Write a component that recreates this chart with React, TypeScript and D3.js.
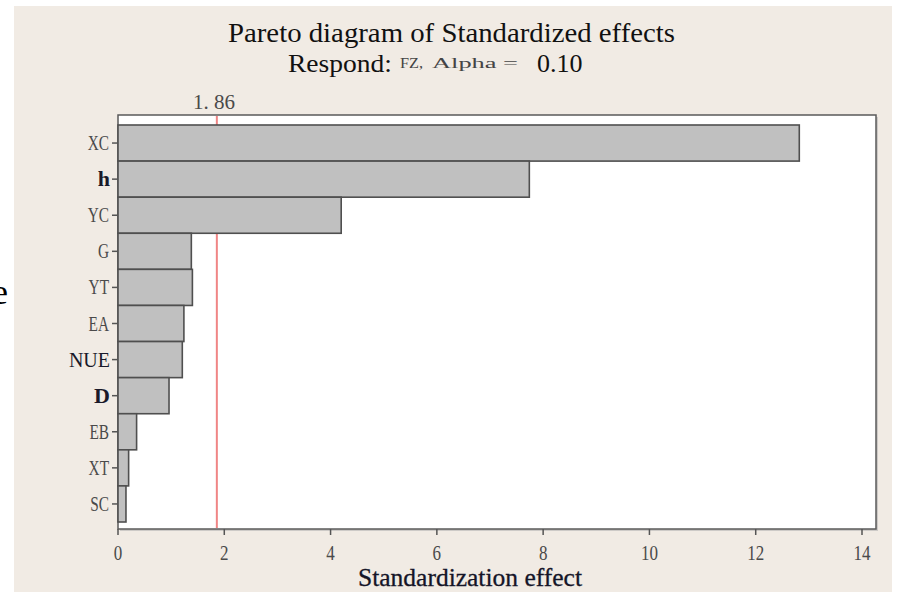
import React from "react";
import * as d3 from "d3";

const categories = ["XC", "h", "YC", "G", "YT", "EA", "NUE", "D", "EB", "XT", "SC"];
const effects = [12.82, 7.74, 4.2, 1.38, 1.4, 1.24, 1.21, 0.96, 0.35, 0.2, 0.15];
const xTicks = [0, 2, 4, 6, 8, 10, 12, 14];
const boldLabels = ["h", "D"];
const timesLabels = ["NUE"];
const threshold = 1.86;

const W = 899;
const H = 592;
const plot = { left: 118, right: 876, top: 115, bottom: 529 };

export default function App() {
  const x = d3.scaleLinear().domain([0, 14]).range([plot.left, 862]);
  const y = d3
    .scaleBand<string>()
    .domain(categories)
    .range([125, 522])
    .padding(0);
  const serif = "'Liberation Serif', 'Times New Roman', serif";
  const gray = "#4a4a4a";
  return (
    <svg
      width={W}
      height={H}
      style={{ position: "absolute", left: 0, top: 0, display: "block" }}
    >
      <rect x={0} y={0} width={W} height={H} fill="#ffffff" />
      <rect x={14} y={6} width={878} height={H - 6} fill="#f1ebe4" />
      <text x={8} y={304} fontFamily={serif} fontSize={36} textAnchor="end" fill="#000">
        e
      </text>
      {/* titles */}
      <text
        x={228}
        y={42}
        fontFamily={serif}
        fontSize={27}
        textLength={447}
        lengthAdjust="spacingAndGlyphs"
        fill="#111"
      >
        Pareto diagram of Standardized effects
      </text>
      <text x={288} y={72} fontFamily={serif} fontSize={26} textLength={104} lengthAdjust="spacingAndGlyphs" fill="#111">
        Respond:
      </text>
      <text x={400} y={68} fontFamily={serif} fontSize={15} textLength={23} lengthAdjust="spacingAndGlyphs" fill="#444">
        FZ,
      </text>
      <text x={432} y={68} fontFamily={serif} fontSize={15} textLength={86} lengthAdjust="spacingAndGlyphs" fill="#444">
        Alpha =
      </text>
      <text x={537} y={72} fontFamily={serif} fontSize={26} fill="#111">
        0.10
      </text>
      {/* plot area */}
      <rect
        x={plot.left + 2}
        y={plot.top + 2}
        width={plot.right - plot.left}
        height={plot.bottom - plot.top}
        fill="#aaa"
        opacity={0.5}
      />
      <rect
        x={plot.left}
        y={plot.top}
        width={plot.right - plot.left}
        height={plot.bottom - plot.top}
        fill="#ffffff"
        stroke="#5a5a5a"
        strokeWidth={1.5}
      />
      {/* threshold line */}
      <line
        x1={x(threshold)}
        x2={x(threshold)}
        y1={plot.top + 1}
        y2={plot.bottom - 1}
        stroke="#f08585"
        strokeWidth={2}
      />
      <text
        x={214}
        y={109}
        fontFamily={serif}
        fontSize={20}
        textAnchor="middle"
        fill={gray}
        textLength={42}
        lengthAdjust="spacingAndGlyphs"
      >
        1. 86
      </text>
      {/* bars */}
      {categories.map((c, i) => (
        <rect
          key={c}
          x={x(0)}
          y={y(c)!}
          width={x(effects[i]) - x(0)}
          height={y.bandwidth()}
          fill="#c0c0c0"
          stroke="#4f4f4f"
          strokeWidth={1.6}
        />
      ))}
      {/* y ticks and labels */}
      {categories.map((c) => {
        const cy = y(c)! + y.bandwidth() / 2;
        const bold = boldLabels.includes(c);
        const times = timesLabels.includes(c);
        return (
          <g key={"yl" + c}>
            <line x1={plot.left - 6} x2={plot.left} y1={cy} y2={cy} stroke="#555" strokeWidth={1.5} />
            {bold || times ? (
              <text
                x={plot.left - 8}
                y={cy + 7}
                textAnchor="end"
                fontFamily={serif}
                fontSize={bold ? 22 : 20}
                fontWeight={bold ? "bold" : "normal"}
                fill="#1a1a2a"
              >
                {c}
              </text>
            ) : (
              <text
                transform={`translate(${plot.left - 9},${cy + 7}) scale(0.73,1)`}
                textAnchor="end"
                fontFamily={serif}
                fontSize={21}
                fill={gray}
              >
                {c}
              </text>
            )}
          </g>
        );
      })}
      {/* x ticks */}
      {xTicks.map((t) => (
        <g key={"xt" + t}>
          <line x1={x(t)} x2={x(t)} y1={plot.bottom} y2={plot.bottom + 6} stroke="#555" strokeWidth={1.5} />
          <text
            transform={`translate(${x(t)},560) scale(0.85,1)`}
            textAnchor="middle"
            fontFamily={serif}
            fontSize={20}
            fill={gray}
          >
            {t}
          </text>
        </g>
      ))}
      <text
        x={358}
        y={586}
        fontFamily={serif}
        fontSize={25}
        textLength={224}
        lengthAdjust="spacingAndGlyphs"
        fill="#151528"
        stroke="#151528"
        strokeWidth={0.3}
      >
        Standardization effect
      </text>
    </svg>
  );
}
